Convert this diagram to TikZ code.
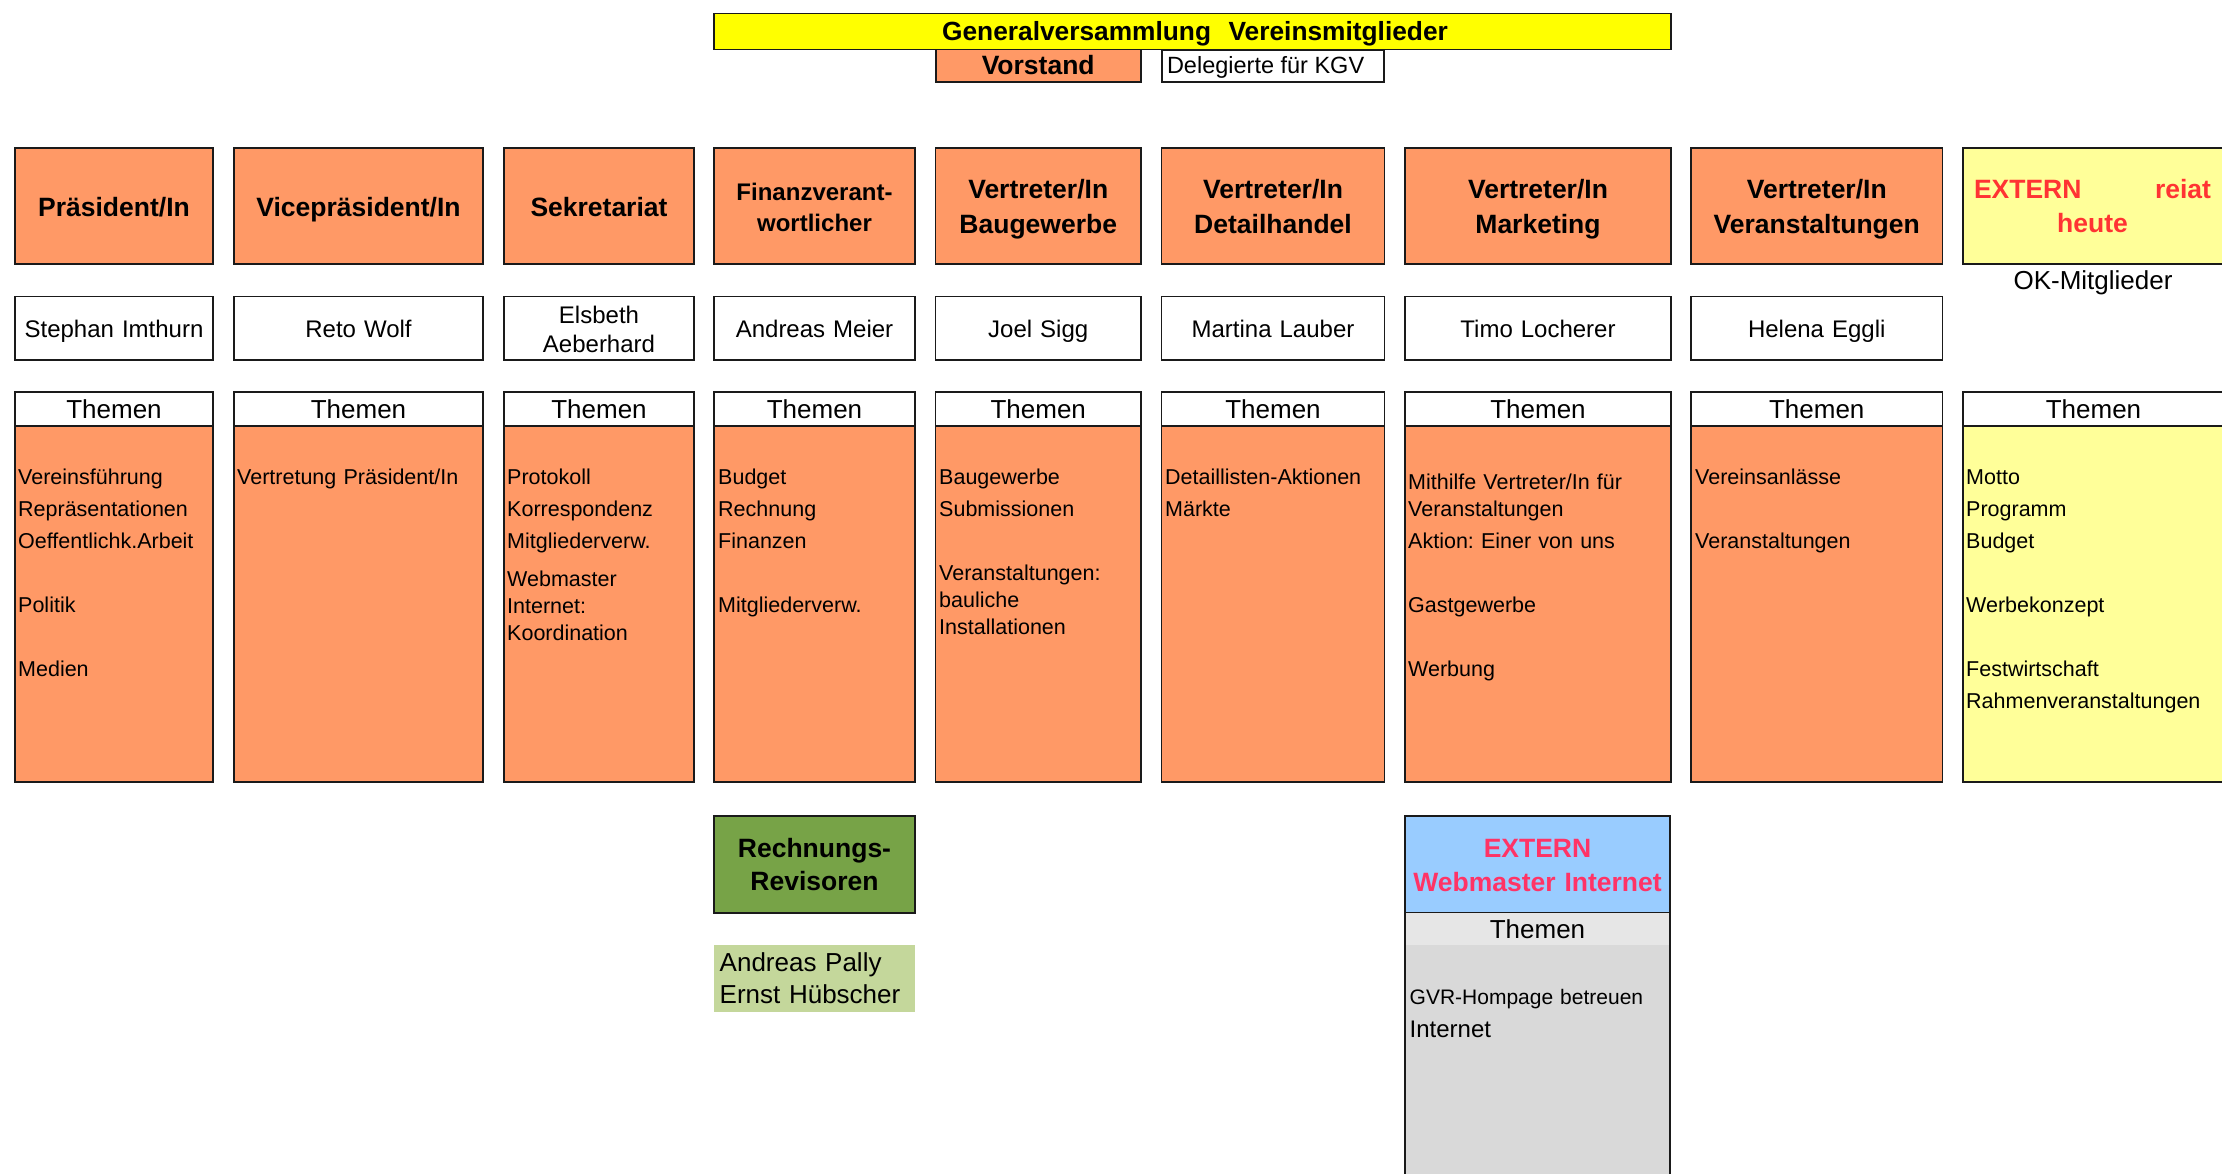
\documentclass[tikz,border=0pt]{standalone}
\usepackage{fontspec}
\setmainfont{Liberation Sans}
\definecolor{orangeF}{HTML}{FF9966}
\definecolor{yellowG}{HTML}{FFFF00}
\definecolor{yellowL}{HTML}{FFFF99}
\definecolor{redT}{HTML}{FF3333}
\definecolor{pinkT}{HTML}{FF3366}
\definecolor{blueF}{HTML}{99CCFF}
\definecolor{greenF}{HTML}{77A347}
\definecolor{greenL}{HTML}{C4D79B}
\definecolor{grayH}{HTML}{E6E6E6}
\definecolor{grayB}{HTML}{D9D9D9}
\definecolor{edge}{HTML}{1A1A1A}
\tikzset{
  cell/.style={draw=edge, line width=1.6pt, inner sep=0pt, outer sep=0pt, align=center},
  hdr/.style={cell, fill=orangeF, minimum height=116pt},
  namebox/.style={cell, fill=white, minimum height=63.5pt},
  themhead/.style={cell, fill=white, minimum height=34pt, font=\fontsize{26pt}{30pt}\selectfont},
  thembody/.style={cell, fill=orangeF, minimum height=356pt},
  ctext/.style={inner sep=0pt, outer sep=0pt, anchor=base, text width=300pt, align=center},
  hdrtext/.style={ctext, font=\fontsize{26.5pt}{35pt}\selectfont\bfseries},
  nametext/.style={ctext, font=\fontsize{24pt}{29pt}\selectfont},
  bodytext/.style={inner sep=0pt, anchor=base west, align=left, text width=300pt, font=\fontsize{21.5pt}{32pt}\selectfont},
  plaintext/.style={inner sep=0pt, outer sep=0pt}
}
\begin{document}
\frenchspacing
\begin{tikzpicture}[x=1pt,y=-1pt]
\useasboundingbox (0,0) rectangle (2222,1173);
\clip (0,0) rectangle (2222,1173);
\fill[white] (0,0) rectangle (2222,1173);

% top
\node[cell, fill=yellowG, minimum width=957pt, minimum height=36pt] (gv) at (1192.5,31.3) {};
\node[ctext, text width=900pt, font=\fontsize{26.3pt}{30pt}\selectfont\bfseries] (gvt) at (1195,40.3) {Generalversammlung\ \ Vereinsmitglieder};
\node[cell, fill=orangeF, minimum width=205pt, minimum height=32.4pt] (vs) at (1038.2,65.5) {};
\node[ctext, font=\fontsize{26.5pt}{30pt}\selectfont\bfseries] (vst) at (1038.2,74.8) {Vorstand};
\node[cell, fill=white, minimum width=222.3pt, minimum height=31.7pt] (dk) at (1272.85,65.85) {};
\node[plaintext, anchor=base west, font=\fontsize{23.5pt}{28pt}\selectfont] (dkt) at (1167,73.5) {Delegierte für KGV};

% header row
\node[hdr, minimum width=198pt] (h1) at (114,206) {};
\node[hdr, minimum width=249pt] (h2) at (358.5,206) {};
\node[hdr, minimum width=190pt] (h3) at (599,206) {};
\node[hdr, minimum width=201pt] (h4) at (814.5,206) {};
\node[hdr, minimum width=205.5pt] (h5) at (1038.25,206) {};
\node[hdr, minimum width=223pt] (h6) at (1273,206) {};
\node[hdr, minimum width=266pt] (h7) at (1538,206) {};
\node[hdr, minimum width=251.5pt] (h8) at (1816.75,206) {};
\node[hdr, fill=yellowL, minimum width=269pt] (h9) at (2097.5,206) {};
\node[hdrtext] (h1t) at (114,216) {Präsident/In};
\node[hdrtext] (h2t) at (358.5,216) {Vicepräsident/In};
\node[hdrtext] (h3t) at (599,216) {Sekretariat};
\node[hdrtext, font=\fontsize{24pt}{31pt}\selectfont\bfseries] (h4t) at (814.5,200) {Finanzverant-\\wortlicher};
\node[hdrtext] (h5t) at (1038.25,198.3) {Vertreter/In\\Baugewerbe};
\node[hdrtext] (h6t) at (1273,198.3) {Vertreter/In\\Detailhandel};
\node[hdrtext] (h7t) at (1538,198.3) {Vertreter/In\\Marketing};
\node[hdrtext] (h8t) at (1816.75,198.3) {Vertreter/In\\Veranstaltungen};
\node[ctext, text width=237pt, text=redT, font=\fontsize{26.5pt}{34pt}\selectfont\bfseries] (h9t) at (2092.5,198.3) {EXTERN\hfill reiat\\heute};

% names row
\node[namebox, minimum width=198pt] (n1) at (114,328.25) {};
\node[namebox, minimum width=249pt] (n2) at (358.5,328.25) {};
\node[namebox, minimum width=190pt] (n3) at (599,328.25) {};
\node[namebox, minimum width=201pt] (n4) at (814.5,328.25) {};
\node[namebox, minimum width=205.5pt] (n5) at (1038.25,328.25) {};
\node[namebox, minimum width=223pt] (n6) at (1273,328.25) {};
\node[namebox, minimum width=266pt] (n7) at (1538,328.25) {};
\node[namebox, minimum width=251.5pt] (n8) at (1816.75,328.25) {};
\node[nametext] (n1t) at (114,337.5) {Stephan Imthurn};
\node[nametext] (n2t) at (358.5,337.5) {Reto Wolf};
\node[nametext] (n3t) at (599,323.2) {Elsbeth\\Aeberhard};
\node[nametext] (n4t) at (814.5,337.5) {Andreas Meier};
\node[nametext] (n5t) at (1038.25,337.5) {Joel Sigg};
\node[nametext] (n6t) at (1273,337.5) {Martina Lauber};
\node[nametext] (n7t) at (1538,337.5) {Timo Locherer};
\node[nametext] (n8t) at (1816.75,337.5) {Helena Eggli};
\node[ctext, font=\fontsize{26pt}{30pt}\selectfont] (ok) at (2093,289.3) {OK-Mitglieder};

% Themen bodies
\node[thembody, minimum width=198pt] (b1) at (114,604) {};
\node[thembody, minimum width=249pt] (b2) at (358.5,604) {};
\node[thembody, minimum width=190pt] (b3) at (599,604) {};
\node[thembody, minimum width=201pt] (b4) at (814.5,604) {};
\node[thembody, minimum width=205.5pt] (b5) at (1038.25,604) {};
\node[thembody, minimum width=223pt] (b6) at (1273,604) {};
\node[thembody, minimum width=266pt] (b7) at (1538,604) {};
\node[thembody, minimum width=251.5pt] (b8) at (1816.75,604) {};
\node[thembody, fill=yellowL, minimum width=269pt] (b9) at (2097.5,604) {};

% Themen headers
\node[themhead, minimum width=198pt] (th1) at (114,409) {Themen};
\node[themhead, minimum width=249pt] (th2) at (358.5,409) {Themen};
\node[themhead, minimum width=190pt] (th3) at (599,409) {Themen};
\node[themhead, minimum width=201pt] (th4) at (814.5,409) {Themen};
\node[themhead, minimum width=205.5pt] (th5) at (1038.25,409) {Themen};
\node[themhead, minimum width=223pt] (th6) at (1273,409) {Themen};
\node[themhead, minimum width=266pt] (th7) at (1538,409) {Themen};
\node[themhead, minimum width=251.5pt] (th8) at (1816.75,409) {Themen};
\node[themhead, minimum width=269pt] (th9) at (2097.5,409) {};
\node[plaintext, font=\fontsize{26pt}{30pt}\selectfont] (th9t) at (2093.5,409) {Themen};

% body texts
\node[bodytext] (t1) at (18,484) {Vereinsführung\\Repräsentationen\\Oeffentlichk.Arbeit\\[32pt]Politik\\[32pt]Medien};
\node[bodytext] (t2) at (237,484) {Vertretung Präsident/In};
\node[bodytext] (t3) at (507,484) {Protokoll\\Korrespondenz\\Mitgliederverw.\\[6.3pt]Webmaster\\[-5pt]Internet:\\[-5pt]Koordination};
\node[bodytext] (t4) at (718,484) {Budget\\Rechnung\\Finanzen\\[32pt]Mitgliederverw.};
\node[bodytext] (t5) at (939,484) {Baugewerbe\\Submissionen\\[32pt]Veranstaltungen:\\[-5pt]bauliche\\[-5pt]Installationen};
\node[bodytext] (t6) at (1165,484) {Detaillisten-Aktionen\\Märkte};
\node[bodytext] (t7) at (1408,489.6) {Mithilfe Vertreter/In für\\[-5pt]Veranstaltungen\\Aktion: Einer von uns\\[32pt]Gastgewerbe\\[32pt]Werbung};
\node[bodytext] (t8) at (1695,484) {Vereinsanlässe\\[32pt]Veranstaltungen};
\node[bodytext] (t9) at (1966,484) {Motto\\Programm\\Budget\\[32pt]Werbekonzept\\[32pt]Festwirtschaft\\Rahmenveranstaltungen};

% Rechnungsrevisoren
\node[cell, fill=greenF, minimum width=201pt, minimum height=97pt] (rr) at (814.5,864.2) {};
\node[hdrtext, font=\fontsize{26.5pt}{33pt}\selectfont\bfseries] (rrt) at (814.5,857.3) {Rechnungs-\\Revisoren};
\node[plaintext, fill=greenL, minimum width=201pt, minimum height=66.7pt] (rn) at (814.5,978.35) {};
\node[bodytext, font=\fontsize{26pt}{31.6pt}\selectfont] (rnt) at (719.5,971.5) {Andreas Pally\\Ernst Hübscher};

% Webmaster extern
\node[cell, fill=grayB, minimum width=265pt, minimum height=277.7pt] (wb) at (1537.5,1051.15) {};
\node[plaintext, fill=grayH, minimum width=263pt, minimum height=32pt] (wh) at (1537.5,929) {};
\node[ctext, font=\fontsize{26pt}{30pt}\selectfont] (wht) at (1537.5,938.3) {Themen};
\node[cell, fill=blueF, minimum width=265pt, minimum height=96.6pt] (wm) at (1537.5,864) {};
\node[hdrtext, text=pinkT, font=\fontsize{26.5pt}{34pt}\selectfont\bfseries] (wmt) at (1537.5,857.2) {EXTERN\\Webmaster Internet};
\node[bodytext, font=\fontsize{21pt}{32pt}\selectfont] (wt1) at (1409.5,1004.5) {GVR-Hompage betreuen};
\node[bodytext, font=\fontsize{24pt}{30pt}\selectfont] (wt2) at (1409.5,1037.5) {Internet};
\end{tikzpicture}
\end{document}
